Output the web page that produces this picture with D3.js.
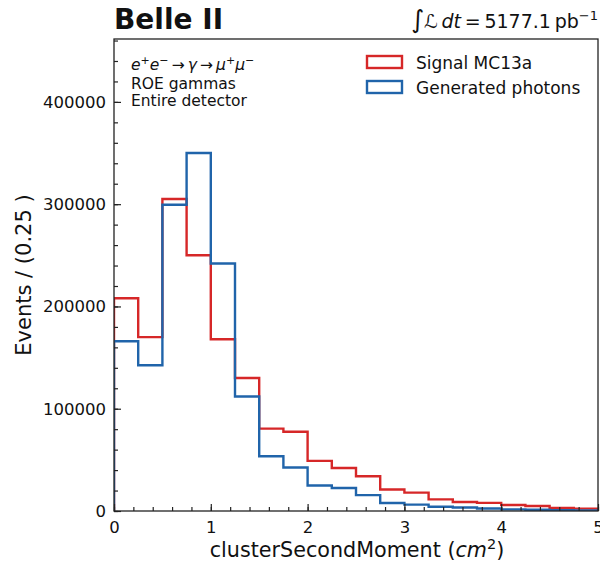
<!DOCTYPE html>
<html>
<head>
<meta charset="utf-8">
<script src="https://cdn.jsdelivr.net/npm/d3@7"></script>
<style>
  body { margin: 0; background: #fff; }
  svg { font-family: "DejaVu Sans", sans-serif; }
</style>
</head>
<body>
<svg id="chart" width="600" height="565"></svg>
<script>
// bin edges: 0 .. 5 in steps of 0.25
var binEdges = d3.range(0, 5.0001, 0.25);

var signalMC = [208000, 170000, 305000, 250000, 168000, 130000, 80500, 77500,
                49000, 42000, 34000, 21000, 18000, 11400, 8800, 7900,
                5900, 4900, 3100, 2300];
var genPhotons = [166000, 142500, 299500, 350000, 242000, 112000, 53500, 42500,
                  25000, 22500, 15500, 7800, 6200, 4200, 3400, 2400,
                  1600, 1200, 900, 600];

var xTicks = [0, 1, 2, 3, 4, 5];
var yTicks = [0, 100000, 200000, 300000, 400000];

var series = [
  { name: "Signal MC13a", values: signalMC, color: "#d62728" },
  { name: "Generated photons", values: genPhotons, color: "#2064aa" }
];

var margin = { left: 114, right: 2, top: 39, bottom: 54 },
    width = 600, height = 565;

var svg = d3.select("#chart");

var x = d3.scaleLinear().domain([0, 5]).range([margin.left, width - margin.right]);
var y = d3.scaleLinear().domain([0, 461500]).range([height - margin.bottom, margin.top]);

// step outline like matplotlib histtype="step"
function stepPath(vals) {
  var p = d3.path();
  p.moveTo(x(binEdges[0]), y(0));
  vals.forEach(function(v, i) {
    p.lineTo(x(binEdges[i]), y(v));
    p.lineTo(x(binEdges[i + 1]), y(v));
  });
  p.lineTo(x(binEdges[vals.length]), y(0));
  return p.toString();
}

var plot = svg.append("g");
plot.append("defs").append("clipPath").attr("id", "clip")
    .append("rect")
    .attr("x", margin.left).attr("y", margin.top)
    .attr("width", x(5) - margin.left).attr("height", y(0) - margin.top);

plot.selectAll("path.hist")
    .data(series)
    .enter().append("path")
    .attr("class", "hist")
    .attr("clip-path", "url(#clip)")
    .attr("d", function(d) { return stepPath(d.values); })
    .attr("fill", "none")
    .attr("stroke", function(d) { return d.color; })
    .attr("stroke-width", 2.4);

// axes (ticks pointing inward)
var xAxis = d3.axisBottom(x).tickValues(xTicks).tickFormat(d3.format("d"))
    .tickSizeInner(-7).tickSizeOuter(0).tickPadding(10);
var xMinor = d3.axisBottom(x).tickValues(d3.range(0, 5.0001, 0.2))
    .tickSizeInner(-4).tickSizeOuter(0).tickFormat("");
var yAxis = d3.axisLeft(y).tickValues(yTicks).tickFormat(d3.format("d"))
    .tickSizeInner(-7).tickSizeOuter(0).tickPadding(8);
var yMinor = d3.axisLeft(y).tickValues(d3.range(0, 461000, 20000))
    .tickSizeInner(-4).tickSizeOuter(0).tickFormat("");

function styleAxis(g) {
  g.select(".domain").remove();
  g.selectAll("line").attr("stroke", "#222").attr("stroke-width", 1.2);
  g.selectAll("text").attr("fill", "#111").style("font-size", "16.5px")
   .style("font-family", "DejaVu Sans, sans-serif");
}

svg.append("g").attr("transform", "translate(0," + y(0) + ")").call(xMinor).call(styleAxis);
svg.append("g").attr("transform", "translate(0," + y(0) + ")").call(xAxis).call(styleAxis);
svg.append("g").attr("transform", "translate(" + margin.left + ",0)").call(yMinor).call(styleAxis);
svg.append("g").attr("transform", "translate(" + margin.left + ",0)").call(yAxis).call(styleAxis);

// frame
svg.append("rect")
    .attr("x", margin.left).attr("y", margin.top)
    .attr("width", x(5) - margin.left).attr("height", y(0) - margin.top)
    .attr("fill", "none").attr("stroke", "#222").attr("stroke-width", 1.3);

// axis labels
svg.append("text")
    .attr("x", (margin.left + x(5)) / 2 + 1).attr("y", 557)
    .attr("text-anchor", "middle").style("font-size", "20.7px").attr("fill", "#111")
    .call(function(t) {
      t.append("tspan").text("clusterSecondMoment (");
      t.append("tspan").style("font-style", "italic").text("cm");
      t.append("tspan").attr("dy", -8).style("font-size", "14.5px").text("2");
      t.append("tspan").attr("dy", 8).text(")");
    });

svg.append("text")
    .attr("transform", "translate(31," + ((margin.top + y(0)) / 2) + ") rotate(-90)")
    .attr("text-anchor", "middle").style("font-size", "21px").attr("fill", "#111")
    .text("Events / (0.25 )");

// title and luminosity
svg.append("text").attr("x", 114).attr("y", 29)
    .style("font-size", "28px").style("font-weight", "bold").attr("fill", "#111")
    .text("Belle II");

var lumi = svg.append("text").attr("x", 598).attr("y", 28).attr("text-anchor", "end")
    .style("font-size", "19px").attr("fill", "#111");
lumi.append("tspan").style("font-size", "25px").text("\u222B");
lumi.append("tspan").style("font-style", "italic").text("\u2112\u2009dt");
lumi.append("tspan").text("\u2009=\u20095177.1\u2009pb");
lumi.append("tspan").attr("dy", -8).style("font-size", "13px").text("\u22121");

// annotation
var ann = svg.append("g").attr("fill", "#111");
var proc = ann.append("text").attr("x", 131).attr("y", 70)
    .style("font-size", "15.5px").style("font-style", "italic");
proc.append("tspan").text("e");
proc.append("tspan").attr("dy", -6).style("font-size", "11px").text("+");
proc.append("tspan").attr("dy", 6).text("e");
proc.append("tspan").attr("dy", -6).style("font-size", "11px").text("\u2212");
proc.append("tspan").attr("dy", 6).style("font-style", "normal").text("\u2009\u2192\u2009");
proc.append("tspan").text("\u03B3");
proc.append("tspan").style("font-style", "normal").text("\u2009\u2192\u2009");
proc.append("tspan").text("\u03BC");
proc.append("tspan").attr("dy", -6).style("font-size", "11px").text("+");
proc.append("tspan").attr("dy", 6).text("\u03BC");
proc.append("tspan").attr("dy", -6).style("font-size", "11px").text("\u2212");

ann.append("text").attr("x", 131).attr("y", 89).style("font-size", "15.5px").text("ROE gammas");
ann.append("text").attr("x", 131).attr("y", 106).style("font-size", "15.5px").text("Entire detector");

// legend
var legend = svg.append("g").attr("transform", "translate(367,56)");
var items = legend.selectAll("g").data(series).enter().append("g")
    .attr("transform", function(d, i) { return "translate(0," + (i * 25) + ")"; });
items.append("rect").attr("x", 0).attr("y", 0).attr("width", 35).attr("height", 12)
    .attr("fill", "none").attr("stroke", function(d) { return d.color; }).attr("stroke-width", 2.4);
items.append("text").attr("x", 49).attr("y", 13).style("font-size", "17px").attr("fill", "#111")
    .text(function(d) { return d.name; });
</script>
</body>
</html>
